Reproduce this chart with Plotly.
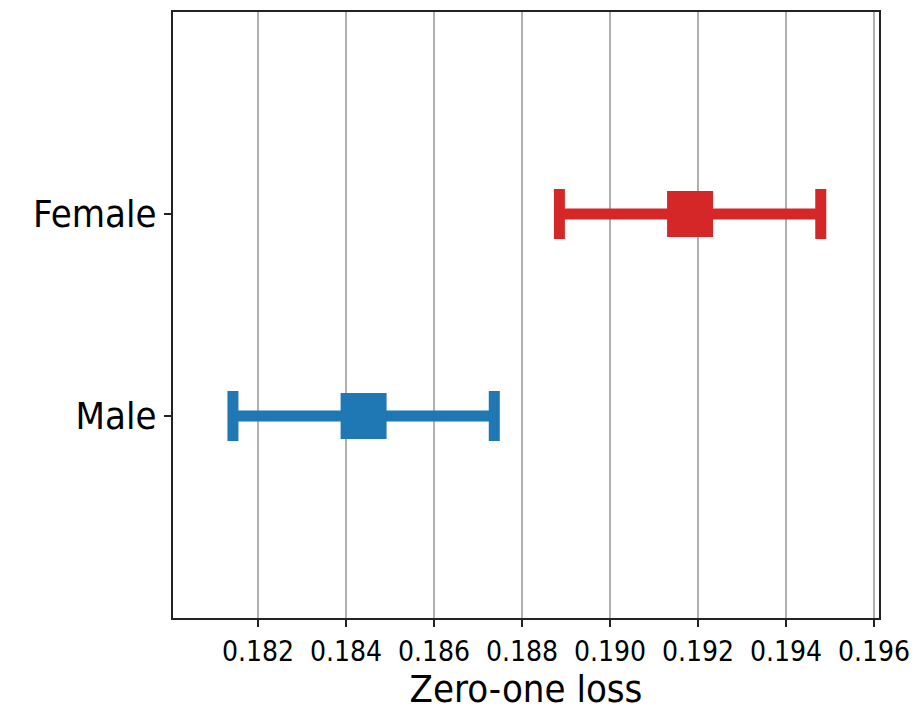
import plotly.graph_objects as go

groups = ["Male", "Female"]
loss_mean = [0.18440, 0.19182]
loss_err = [0.00297, 0.00297]
colors = ["#1f77b4", "#d62728"]
x_ticks = [0.182, 0.184, 0.186, 0.188, 0.190, 0.192, 0.194, 0.196]

FONT = "DejaVu Sans Condensed, DejaVu Sans, sans-serif"

fig = go.Figure()
for g, m, e, c in zip(groups, loss_mean, loss_err, colors):
    fig.add_trace(go.Scatter(
        x=[m], y=[g], mode="markers",
        marker=dict(symbol="square", size=46, color=c, line=dict(width=0)),
        error_x=dict(type="data", array=[e], visible=True, color=c,
                     thickness=11, width=25),
        showlegend=False,
    ))

fig.update_layout(
    width=919, height=711,
    margin=dict(l=173, r=40, t=12, b=93),
    paper_bgcolor="white", plot_bgcolor="white",
    font=dict(family=FONT, color="black"),
)
fig.update_xaxes(
    range=[0.180068, 0.196114],
    tickvals=x_ticks, ticktext=[f"{v:.3f}" for v in x_ticks],
    showgrid=True, gridcolor="#b0b0b0", gridwidth=1.5,
    showline=True, linecolor="#222", linewidth=1.8, mirror=True,
    ticks="outside", ticklen=7, tickwidth=1.5, tickcolor="#222",
    tickfont=dict(size=28, family=FONT),
    title=dict(text="Zero-one loss", font=dict(size=38, family=FONT), standoff=10),
    zeroline=False, automargin=False,
)
fig.update_yaxes(
    type="category", categoryorder="array", categoryarray=groups,
    range=[-1, 2],
    showgrid=False,
    showline=True, linecolor="#222", linewidth=1.8, mirror=True,
    ticks="outside", ticklen=7, tickwidth=1.5, tickcolor="#222",
    tickfont=dict(size=38, family=FONT),
    zeroline=False, automargin=False,
)
fig.write_html("out.html")
